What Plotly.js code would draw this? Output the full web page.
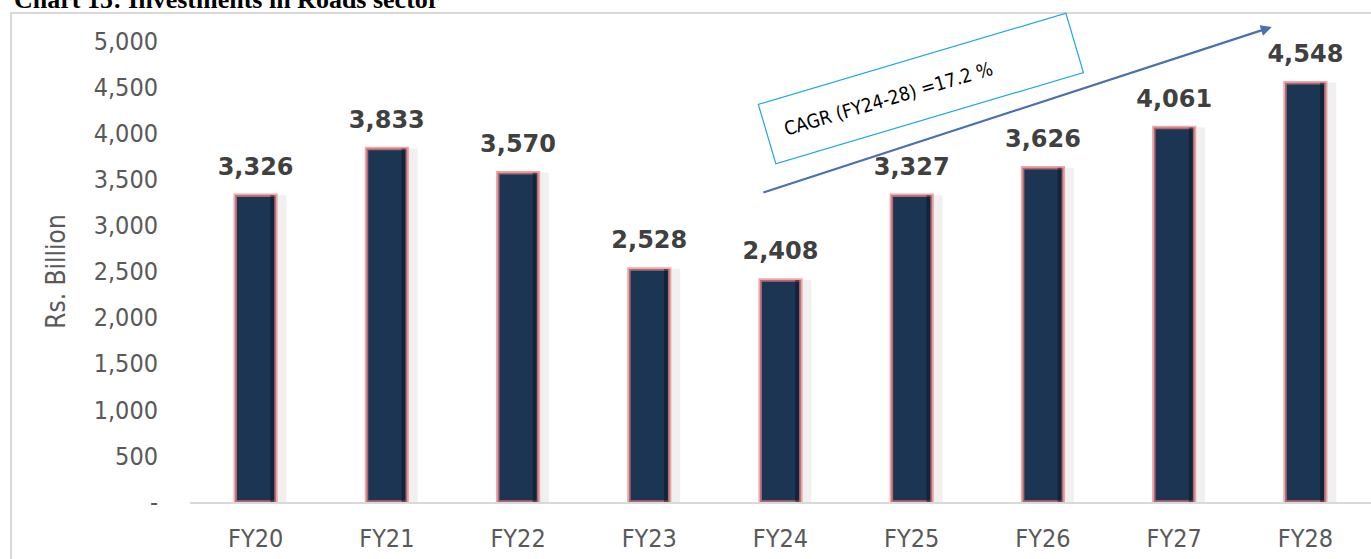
<!DOCTYPE html>
<html>
<head>
<meta charset="utf-8">
<script src="https://cdn.plot.ly/plotly-3.0.1.min.js"></script>
<style>
  html, body { margin: 0; padding: 0; background: #ffffff; }
  #wrap { position: relative; width: 1371px; height: 559px; overflow: hidden; }
  #frame { position: absolute; left: 10px; top: 12px; width: 1400px; height: 600px;
           border-left: 2px solid #d9d9d9; border-top: 2px solid #d9d9d9; pointer-events: none; }
  #chart { position: absolute; left: 0; top: 0; width: 1371px; height: 559px; }
</style>
</head>
<body>
<div id="wrap">
  <div id="frame"></div>
  <div id="chart"></div>
</div>
<script>
const categories = ["FY20", "FY21", "FY22", "FY23", "FY24", "FY25", "FY26", "FY27", "FY28"];
const investments = [3326, 3833, 3570, 2528, 2408, 3327, 3626, 4061, 4548];
const yTickVals = [0, 500, 1000, 1500, 2000, 2500, 3000, 3500, 4000, 4500, 5000];
const yTickText = ["-", "500", "1,000", "1,500", "2,000", "2,500", "3,000", "3,500", "4,000", "4,500", "5,000"];
const titleText = "Chart 15: Investments in Roads sector";
const yTitleText = "Rs. Billion";
const cagrText = "CAGR (FY24-28) =17.2 %";

const condensed = "DejaVu Sans Condensed, DejaVu Sans, sans-serif";
const axisFont = { family: condensed, size: 25, color: "#595959" };

const shadowTrace = {
  type: "bar", x: categories, y: investments,
  width: 0.31, offset: -0.075,
  marker: { color: "rgba(150,150,150,0.14)", line: { width: 0 } },
  hoverinfo: "skip"
};

const barTrace = {
  type: "bar", x: categories, y: investments,
  width: 0.31, offset: -0.155,
  marker: { color: "#1b3553", line: { color: "rgba(236,130,130,0.7)", width: 3.5 } },
  hoverinfo: "x+y"
};

const edgeTrace = {
  type: "bar", x: categories, y: investments,
  width: 0.03, offset: 0.112,
  marker: { color: "rgba(5,15,28,0.45)", line: { width: 0 } },
  hoverinfo: "skip"
};

const labelTrace = {
  type: "scatter", mode: "markers+text",
  x: categories, y: investments,
  marker: { size: 22, opacity: 0 },
  text: investments.map(v => v.toLocaleString("en-US")),
  textposition: "top center",
  cliponaxis: false,
  textfont: { family: "DejaVu Sans, sans-serif", size: 24, color: "#404040", weight: "bold" },
  hoverinfo: "skip"
};

const layout = {
  width: 1371, height: 559,
  margin: { l: 190, r: 0, t: 41, b: 57 },
  paper_bgcolor: "rgba(0,0,0,0)",
  plot_bgcolor: "rgba(0,0,0,0)",
  showlegend: false,
  barmode: "overlay",
  xaxis: {
    type: "category",
    range: [-0.5, 8.5],
    showgrid: false,
    showline: true, linecolor: "#d9d9d9", linewidth: 2,
    ticks: "",
    ticklabelstandoff: 13,
    tickfont: axisFont
  },
  yaxis: {
    range: [0, 5000],
    showgrid: false, zeroline: false, showline: false,
    tickvals: yTickVals, ticktext: yTickText,
    ticks: "",
    ticklabelstandoff: 31,
    tickfont: axisFont,
    title: { text: yTitleText, font: { family: condensed, size: 26, color: "#595959" }, standoff: 20 }
  },
  annotations: [
    {
      xref: "paper", yref: "paper",
      x: -0.151, y: 1.091, xanchor: "left", yanchor: "middle",
      text: "<b>" + titleText + "</b>",
      showarrow: false,
      font: { family: "Liberation Serif, Times New Roman, serif", size: 26, color: "#000000" }
    },
    {
      xref: "x", yref: "y", axref: "x", ayref: "y",
      x: 7.744, y: 5152, ax: 3.858, ay: 3351,
      showarrow: true, arrowhead: 2, arrowsize: 1, arrowwidth: 2.2, arrowcolor: "#4a70ad",
      text: ""
    },
    {
      xref: "x", yref: "y",
      x: 5.07, y: 4480,
      text: "&nbsp;" + cagrText,
      showarrow: false,
      textangle: -16.5,
      font: { family: condensed, size: 19, color: "#000000" },
      bgcolor: "#ffffff",
      bordercolor: "#1fa8e0", borderwidth: 1.2, borderpad: 12,
      width: 296, height: 37, align: "left", valign: "middle"
    }
  ]
};

Plotly.newPlot("chart", [shadowTrace, barTrace, edgeTrace, labelTrace], layout, { displayModeBar: false, staticPlot: true });
</script>
</body>
</html>
